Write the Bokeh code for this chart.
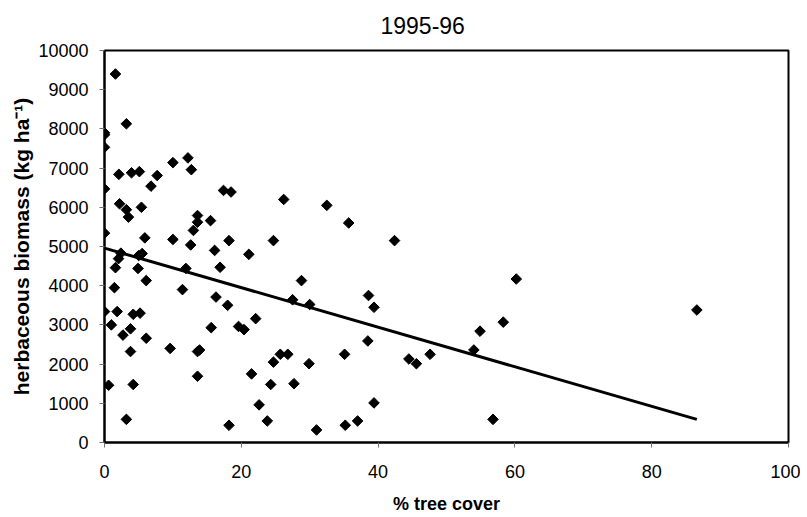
from bokeh.plotting import figure
from bokeh.models import Range1d, FixedTicker, Title
from bokeh.embed import file_html
from bokeh.resources import INLINE
import numpy as np

# % tree cover
tree_cover = [0, 0, 0, 0, 0, 1.6, 3.2, 2.1, 3.95, 5.1, 7.7, 6.8, 10.0, 12.2, 12.7,
              2.2, 3.2, 3.5, 5.4, 5.9, 10.0, 12.6, 13.0, 13.6, 13.6, 15.5, 17.4, 18.5,
              16.1, 18.2, 24.7, 26.2, 21.1, 2.4, 2.05, 1.6, 5.5, 5.0, 4.9, 6.1, 1.45,
              11.9, 11.4, 16.9, 16.3, 18.0, 22.1, 19.6, 20.4, 15.6, 0, 1.85, 4.2, 5.2,
              1.0, 3.8, 2.7, 6.1, 3.8, 9.6, 13.6, 13.9, 13.6, 0.6, 4.2, 3.2, 18.2, 23.8,
              22.6, 21.5, 24.3, 24.7, 25.7, 26.8, 32.5, 35.7, 42.4, 28.8, 27.5, 30.0,
              38.6, 39.4, 60.2, 58.3, 54.9, 54.0, 47.6, 44.5, 45.6, 38.5, 35.1, 29.9,
              27.7, 39.4, 56.8, 31.0, 35.2, 37.0, 86.6]
# herbaceous biomass (kg/ha)
biomass = [7900, 7850, 7530, 6470, 5340, 9400, 8130, 6840, 6880, 6910, 6810, 6540, 7140,
           7260, 6960, 6090, 5940, 5750, 6000, 5220, 5180, 5040, 5410, 5790, 5620, 5660,
           6430, 6390, 4900, 5150, 5150, 6200, 4800, 4830, 4690, 4460, 4820, 4770, 4440,
           4130, 3950, 4440, 3900, 4470, 3710, 3500, 3160, 2960, 2880, 2930, 3340, 3340,
           3270, 3300, 3000, 2900, 2740, 2660, 2320, 2400, 2320, 2360, 1690, 1460, 1480,
           590, 440, 550, 960, 1750, 1480, 2050, 2250, 2250, 6050, 5600, 5150, 4130, 3640,
           3520, 3750, 3450, 4170, 3070, 2840, 2360, 2250, 2130, 2010, 2590, 2250, 2010,
           1500, 1010, 590, 320, 440, 550, 3380]

# linear trend line end points
trend_x = [0, 86.6]
trend_y = [4960, 590]

x_ticks = [0, 20, 40, 60, 80, 100]
y_ticks = list(range(0, 10001, 1000))

FONT = "Liberation Sans"

p = figure(width=800, height=517, output_backend="svg", toolbar_location=None,
           x_range=Range1d(0, 100), y_range=Range1d(0, 10000),
           min_border_left=104, min_border_right=12, min_border_top=50,
           min_border_bottom=75, background_fill_color="white",
           border_fill_color="white")

p.xgrid.visible = False
p.ygrid.visible = False
p.outline_line_color = "black"
p.outline_line_width = 2

for ax in (p.xaxis[0], p.yaxis[0]):
    ax.axis_line_color = "black"
    ax.axis_line_width = 2
    ax.major_tick_line_color = "#707070"
    ax.major_tick_line_width = 1
    ax.major_tick_in = 0
    ax.major_tick_out = 5
    ax.minor_tick_line_color = None
    ax.major_label_text_font = FONT
    ax.major_label_text_font_size = "18px"
    ax.major_label_text_color = "black"
    ax.axis_label_text_font = FONT
    ax.axis_label_text_font_style = "bold"
    ax.axis_label_text_color = "black"

p.xaxis.axis_label_text_font_size = "18px"
p.yaxis.axis_label_text_font_size = "21px"
p.xaxis.ticker = FixedTicker(ticks=x_ticks)
p.yaxis.ticker = FixedTicker(ticks=y_ticks)
p.xaxis.axis_label = "% tree cover"
p.yaxis.axis_label = "herbaceous biomass (kg ha\u207b\u00b9)"
p.xaxis.major_label_standoff = 17
p.yaxis.major_label_standoff = 11
p.xaxis.axis_label_standoff = 13
p.yaxis.axis_label_standoff = 2

p.add_layout(Title(text="1995-96", text_font=FONT, text_font_size="23px",
                   text_font_style="normal", text_color="black", align="left",
                   vertical_align="top", offset=276, standoff=30), "above")

p.line(trend_x, trend_y, line_color="black", line_width=3)
p.scatter(tree_cover, biomass, marker="square", angle=np.pi / 4, size=7.5,
          fill_color="black", line_color="black")

open("out.html", "w").write(file_html(p, INLINE))
